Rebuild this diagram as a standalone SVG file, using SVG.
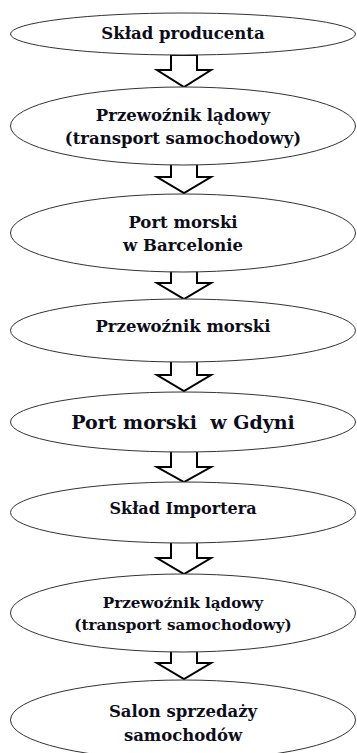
<svg xmlns="http://www.w3.org/2000/svg" width="357" height="753" viewBox="0 0 357 753">
<style>
.n ellipse{fill:#fff;stroke:#333;stroke-width:1}
text{font-family:"DejaVu Serif","Liberation Serif",serif;font-weight:bold;fill:#0d0d1a;text-anchor:middle;white-space:pre}
.a{fill:#fff;stroke:#000;stroke-width:2;stroke-linejoin:miter}
</style>
<rect width="357" height="753" fill="#fff"/>
<g id="connectors">
<path class="a" d="M171 55V70H157L184 87L211 70H197V55Z"/>
<path class="a" d="M171 164V177H157L184 193L211 177H197V164Z"/>
<path class="a" d="M171 271V283H157L184 299L211 283H197V271Z"/>
<path class="a" d="M171 361V375H157L184 391L211 375H197V361Z"/>
<path class="a" d="M171 451V467H157L184 482L211 467H197V451Z"/>
<path class="a" d="M171 542V558H157L184 574L211 558H197V542Z"/>
<path class="a" d="M171 651V663H157L184 679L211 663H197V651Z"/>
</g>
<g id="n1" class="n"><ellipse cx="183" cy="34" rx="172.5" ry="21"/><text x="183" y="39" font-size="16.5">Skład producenta</text></g>
<g id="n2" class="n"><ellipse cx="183" cy="126" rx="172.5" ry="39"/><text x="183" y="121" font-size="16.5">Przewoźnik lądowy</text><text x="183" y="144" font-size="16.5">(transport samochodowy)</text></g>
<g id="n3" class="n"><ellipse cx="183" cy="233" rx="172.5" ry="39"/><text x="183" y="228" font-size="16.5">Port morski</text><text x="183" y="251" font-size="16.5">w Barcelonie</text></g>
<g id="n4" class="n"><ellipse cx="183" cy="330.5" rx="172.5" ry="31.5"/><text x="183" y="332" font-size="16.5">Przewoźnik morski</text></g>
<g id="n5" class="n"><ellipse cx="183" cy="422" rx="172.5" ry="30"/><text x="183" y="429" font-size="19">Port morski  w Gdyni</text></g>
<g id="n6" class="n"><ellipse cx="183" cy="512.5" rx="172.5" ry="30.5"/><text x="183" y="514" font-size="16">Skład Importera</text></g>
<g id="n7" class="n"><ellipse cx="183" cy="613" rx="172.5" ry="39"/><text x="183" y="608" font-size="15.2">Przewoźnik lądowy</text><text x="183" y="630" font-size="15.2">(transport samochodowy)</text></g>
<g id="n8" class="n"><ellipse cx="183" cy="720" rx="172.5" ry="40"/><text x="183" y="717" font-size="16.5">Salon sprzedaży</text><text x="183" y="741" font-size="16.5">samochodów</text></g>
</svg>
